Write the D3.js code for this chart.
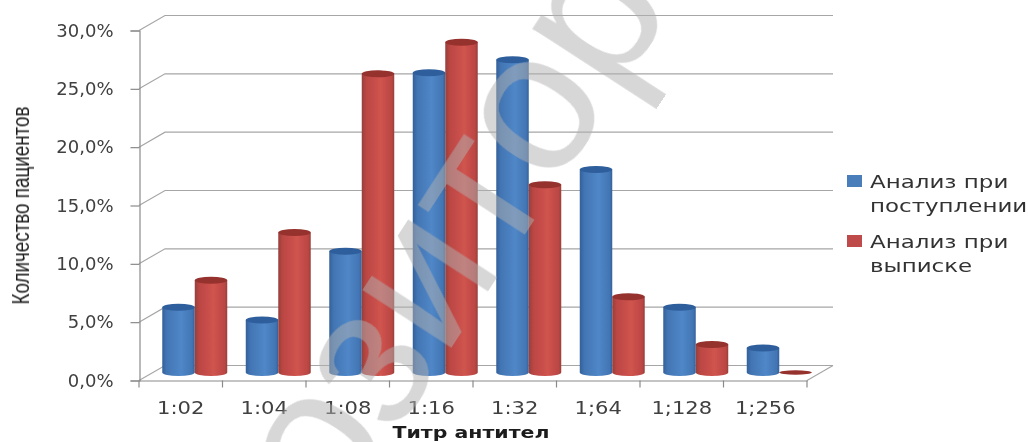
<!DOCTYPE html>
<html>
<head>
<meta charset="utf-8">
<style>
  html, body { margin: 0; padding: 0; background: #fff; }
  svg { display: block; }
  text { font-family: "DejaVu Sans", sans-serif; }
</style>
<script src="https://cdn.jsdelivr.net/npm/d3@7"></script>
</head>
<body>
<svg id="chart"></svg>
<script>
// Values
const categories = ["1:02", "1:04", "1:08", "1:16", "1:32", "1;64", "1;128", "1;256"];
const seriesNames = ["Анализ при поступлении", "Анализ при выписке"];
const admission = [5.6, 4.5, 10.4, 25.7, 26.8, 17.4, 5.6, 2.1];
const discharge = [7.9, 12.0, 25.6, 28.3, 16.1, 6.5, 2.4, 0];
const yTicks = [0, 5, 10, 15, 20, 25, 30];

const width = 1028;
const height = 442;
const svg = d3.select("#chart").attr("width", width).attr("height", height);

const defs = svg.append("defs");
defs.append("filter").attr("id", "soft")
  .append("feGaussianBlur").attr("stdDeviation", 0.45);

// horizontal shading of the cylinders
function shade(id, edge, mid, light) {
  const g = defs.append("linearGradient").attr("id", id);
  g.append("stop").attr("offset", "0%").attr("stop-color", edge);
  g.append("stop").attr("offset", "14%").attr("stop-color", mid);
  g.append("stop").attr("offset", "58%").attr("stop-color", light);
  g.append("stop").attr("offset", "92%").attr("stop-color", mid);
  g.append("stop").attr("offset", "100%").attr("stop-color", edge);
}
shade("blueBar", "#34609a", "#4275b3", "#5087c8");
shade("redBar", "#96403c", "#bb4643", "#d0544f");
const topColor = ["#2f5f9c", "#96302d"];
const legendColor = ["#4a7ebb", "#be4b48"];

const x = d3.scaleBand().domain(categories).range([139, 807]);
const x1 = d3.scaleBand().domain([0, 1]).range([0, x.bandwidth()]).paddingOuter(0.285).paddingInner(0);
const y = d3.scaleLinear().domain([0, 30]).range([380.5, 30.5]);

// 3D offsets: back wall and middle of the floor, where the bars stand
const wall = { dx: 26, dy: -15 };
const barDepth = { dx: 14, dy: -8 };
const ry = 3.5;

const root = svg.append("g").attr("filter", "url(#soft)");

function widen(sel, k) {
  sel.each(function () {
    const len = this.getComputedTextLength();
    d3.select(this).attr("textLength", len * k).attr("lengthAdjust", "spacingAndGlyphs");
  });
}

// Back wall gridlines and their diagonals
const grid = root.append("g").attr("stroke", "#a6a6a6").attr("stroke-width", 1.2).attr("fill", "none");
grid.selectAll("path.gl")
  .data(yTicks)
  .join("path")
  .attr("class", "gl")
  .attr("d", (d) => `M139,${y(d)}L${139 + wall.dx},${y(d) + wall.dy}H${807 + wall.dx}`);
grid.append("path")
  .attr("d", `M807,${y(0)}L${807 + wall.dx},${y(0) + wall.dy}`);

// Axes
const yAxis = root.append("g")
  .attr("transform", "translate(139.5,0)")
  .call(d3.axisLeft(y).tickValues(yTicks).tickSize(9).tickPadding(17)
    .tickFormat((d) => d3.format(".1f")(d).replace(".", ",") + "%"));
const xAxis = root.append("g")
  .attr("transform", `translate(0,${y(0)})`)
  .call(d3.axisBottom(x).tickSize(0).tickPadding(21));

root.append("g").selectAll("line")
  .data(categories.concat("end"))
  .join("line")
  .attr("x1", (d) => (d === "end" ? 807 : x(d)))
  .attr("x2", (d) => (d === "end" ? 807 : x(d)))
  .attr("y1", y(0))
  .attr("y2", y(0) + 7)
  .attr("stroke", "#8a8a8a")
  .attr("stroke-width", 1.2);

[yAxis, xAxis].forEach((a) => {
  a.selectAll("path, line").attr("stroke", "#8a8a8a").attr("stroke-width", 1.2);
  a.selectAll("text").attr("fill", "#404040").attr("font-family", "DejaVu Sans");
});
yAxis.selectAll("text").attr("font-size", 18);
xAxis.selectAll("text").attr("font-size", 17).call(widen, 1.24);

// Cylinders
const rows = categories.map((c, i) => ({ c, values: [admission[i], discharge[i]] }));
const group = root.append("g").selectAll("g")
  .data(rows)
  .join("g")
  .attr("transform", (d) => `translate(${x(d.c) + barDepth.dx},${barDepth.dy})`);

const bars = group.selectAll("g")
  .data((d) => d.values.map((v, s) => ({ v, s })))
  .join("g");

bars.filter((d) => d.v > 0).append("path")
  .attr("fill", (d) => (d.s === 0 ? "url(#blueBar)" : "url(#redBar)"))
  .attr("d", (d) => {
    const left = x1(d.s);
    const w = x1.bandwidth();
    return `M${left},${y(d.v)}V${y(0)}A${w / 2},${ry} 0 0 0 ${left + w},${y(0)}V${y(d.v)}Z`;
  });

bars.append("ellipse")
  .attr("cx", (d) => x1(d.s) + x1.bandwidth() / 2)
  .attr("cy", (d) => y(d.v))
  .attr("rx", (d) => x1.bandwidth() / 2)
  .attr("ry", (d) => (d.v > 0 ? ry : 2.2))
  .attr("fill", (d) => topColor[d.s]);

// Axis titles
root.append("text")
  .attr("transform", "translate(29,205.5) rotate(-90)")
  .attr("text-anchor", "middle")
  .attr("font-size", 23)
  .attr("fill", "#1a1a1a")
  .style("font-family", "Liberation Sans")
  .attr("textLength", 198)
  .attr("lengthAdjust", "spacingAndGlyphs")
  .text("Количество пациентов");

root.append("text")
  .attr("x", 471)
  .attr("y", 438)
  .attr("text-anchor", "middle")
  .attr("font-size", 16)
  .attr("font-weight", "bold")
  .attr("fill", "#1a1a1a")
  .attr("textLength", 157)
  .attr("lengthAdjust", "spacingAndGlyphs")
  .text("Титр антител");

// Legend
const legendLines = [["Анализ при", "поступлении"], ["Анализ при", "выписке"]];
const legend = root.append("g").selectAll("g")
  .data(seriesNames)
  .join("g")
  .attr("transform", (d, i) => `translate(847,${i === 0 ? 175 : 235})`);
legend.append("rect")
  .attr("width", 15)
  .attr("height", 12)
  .attr("fill", (d, i) => legendColor[i]);
legend.selectAll("text")
  .data((d, i) => legendLines[i])
  .join("text")
  .attr("x", 23)
  .attr("y", (d, i) => 13 + i * 24)
  .attr("font-size", 17)
  .attr("fill", "#333")
  .text((d) => d)
  .call(widen, 1.35);

// Watermark across the whole picture, cut off by the edges
svg.append("text")
  .attr("transform", "translate(620,88) rotate(-57) translate(100,0)")
  .attr("text-anchor", "end")
  .attr("font-size", 200)
  .attr("fill", "#b0b0b0")
  .attr("fill-opacity", 0.5)
  .style("font-family", "Liberation Sans")
  .text("озитор");
</script>
</body>
</html>
